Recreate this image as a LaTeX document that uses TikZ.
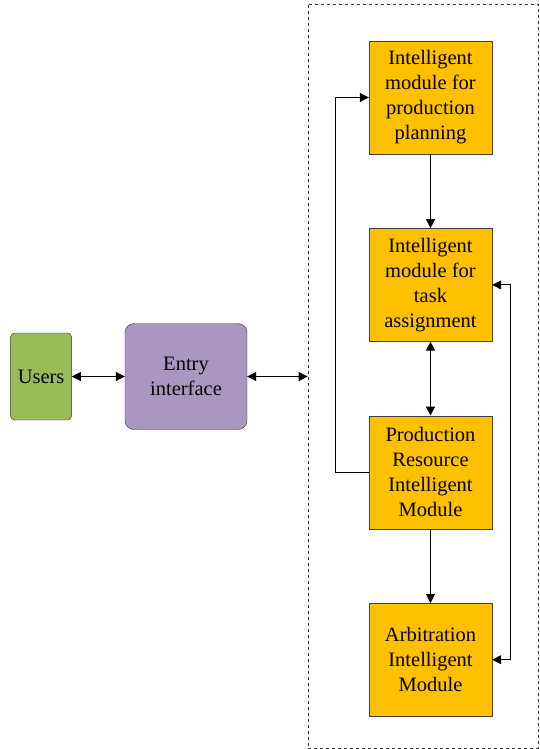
\documentclass[tikz,border=0pt]{standalone}
\usepackage{fontspec}
\setmainfont{Liberation Serif}
\usepackage{xcolor}
\usetikzlibrary{arrows.meta,positioning,fit,calc}
\definecolor{modorange}{RGB}{255,192,0}
\definecolor{usergreen}{RGB}{155,187,89}
\definecolor{entrypurple}{RGB}{169,151,194}

\begin{document}
\begin{tikzpicture}[
  node distance=74pt and 53pt,
  font=\fontsize{20.5}{25}\selectfont,
  module/.style={draw=black!75, fill=modorange, align=center, minimum height=113pt, minimum width=123pt, inner sep=2pt},
  user/.style={draw=black!80, fill=usergreen, rounded corners=4pt, align=center, minimum height=87pt, minimum width=61pt, inner sep=1pt},
  entry/.style={draw=black!80, fill=entrypurple, rounded corners=9pt, align=center, minimum height=106pt, minimum width=122pt},
  frame/.style={draw=black!80, dashed, inner sep=0pt},
  arr/.style={-{Triangle[length=9pt,width=9pt]}, line width=1pt},
  arrs/.style={{Triangle[length=9pt,width=9pt]}-{Triangle[length=9pt,width=9pt]}, line width=1pt}
]
\useasboundingbox (0,0) rectangle (540pt,-749pt);
\node[module] (plan) at (430.5pt,-97.5pt) {Intelligent\\module for\\production\\planning};
\node[module, below=of plan] (task) {Intelligent\\module for\\task\\assignment};
\node[module, below=of task] (res) {Production\\Resource\\Intelligent\\Module};
\node[module, below=of res] (arb) {Arbitration\\Intelligent\\Module};
\node[entry] (ent) at (186pt,-376.5pt) {Entry\\interface};
\node[user, left=of ent] (users) {Users};
\coordinate (fnw) at ($(plan.north west)+(-61pt,37pt)$);
\coordinate (fse) at ($(arb.south east)+(45.5pt,-32pt)$);
\node[frame, fit={(fnw) (fse)}] (sys) {};
\draw[arrs] (users) -- (ent);
\draw[arrs] (ent) -- (ent -| sys.west);
\draw[arr] (plan) -- (task);
\draw[arrs] (task) -- (res);
\draw[arr] (res) -- (arb);
\draw[arr] (res.west) -- ++(-33pt,0) |- (plan.west);
\draw[arrs] (arb.east) -- ++(18pt,0) |- (task.east);
\end{tikzpicture}
\end{document}
